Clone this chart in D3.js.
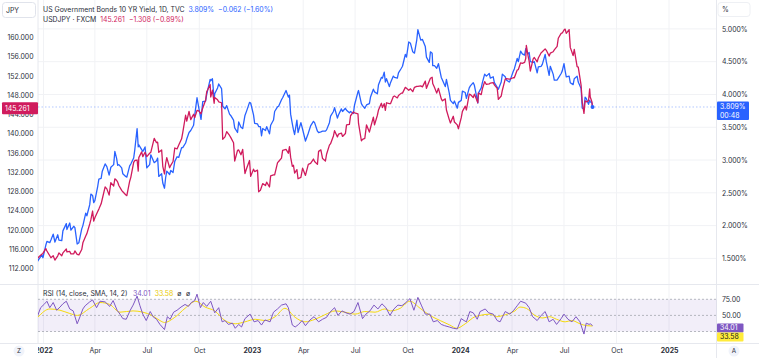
<!DOCTYPE html>
<html><head><meta charset="utf-8">
<script src="https://cdn.jsdelivr.net/npm/d3@7"></script>
<style>
html,body{margin:0;padding:0;background:#fff;}
svg{display:block;font-family:"Inter","Noto Sans",sans-serif;}
</style></head><body>
<svg id="chart" width="759" height="358"></svg>
<script>
// ---------- DATA ----------
const dates = [
"2021-12-17","2021-12-22","2021-12-24","2021-12-29","2021-12-31",
"2022-01-05","2022-01-07","2022-01-12","2022-01-14","2022-01-18","2022-01-21","2022-01-26","2022-01-28",
"2022-02-02","2022-02-04","2022-02-10","2022-02-11","2022-02-16","2022-02-18","2022-02-23","2022-02-25",
"2022-03-01","2022-03-04","2022-03-09","2022-03-11","2022-03-16","2022-03-18","2022-03-23","2022-03-25","2022-03-28","2022-03-30",
"2022-04-01","2022-04-06","2022-04-08","2022-04-12","2022-04-14","2022-04-19","2022-04-22","2022-04-26","2022-04-29",
"2022-05-04","2022-05-06","2022-05-09","2022-05-11","2022-05-13","2022-05-18","2022-05-20","2022-05-25","2022-05-27",
"2022-06-01","2022-06-03","2022-06-08","2022-06-10","2022-06-14","2022-06-16","2022-06-17","2022-06-22","2022-06-24","2022-06-28",
"2022-07-01","2022-07-06","2022-07-08","2022-07-14","2022-07-18","2022-07-20","2022-07-22","2022-07-27","2022-07-29",
"2022-08-01","2022-08-03","2022-08-05","2022-08-10","2022-08-12","2022-08-16","2022-08-19","2022-08-23","2022-08-26","2022-08-31",
"2022-09-02","2022-09-07","2022-09-09","2022-09-13","2022-09-16","2022-09-21","2022-09-23","2022-09-27","2022-09-30",
"2022-10-04","2022-10-07","2022-10-12","2022-10-14","2022-10-20","2022-10-21","2022-10-24","2022-10-27","2022-10-28",
"2022-11-02","2022-11-04","2022-11-09","2022-11-11","2022-11-15","2022-11-18","2022-11-23","2022-11-25","2022-11-30",
"2022-12-02","2022-12-07","2022-12-09","2022-12-13","2022-12-16","2022-12-20","2022-12-23","2022-12-28","2022-12-30",
"2023-01-04","2023-01-06","2023-01-11","2023-01-13","2023-01-16","2023-01-18","2023-01-20","2023-01-25","2023-01-27",
"2023-02-01","2023-02-03","2023-02-08","2023-02-10","2023-02-15","2023-02-17","2023-02-22","2023-02-24",
"2023-03-02","2023-03-06","2023-03-08","2023-03-10","2023-03-13","2023-03-15","2023-03-17","2023-03-21","2023-03-23","2023-03-28","2023-03-31",
"2023-04-05","2023-04-10","2023-04-14","2023-04-19","2023-04-21","2023-04-26","2023-04-28",
"2023-05-02","2023-05-05","2023-05-10","2023-05-12","2023-05-17","2023-05-19","2023-05-24","2023-05-26","2023-05-31",
"2023-06-02","2023-06-07","2023-06-09","2023-06-14","2023-06-16","2023-06-21","2023-06-23","2023-06-28","2023-06-30",
"2023-07-06","2023-07-07","2023-07-12","2023-07-14","2023-07-18","2023-07-21","2023-07-26","2023-07-28",
"2023-08-02","2023-08-04","2023-08-09","2023-08-11","2023-08-16","2023-08-18","2023-08-21","2023-08-23","2023-08-25","2023-08-30",
"2023-09-01","2023-09-06","2023-09-08","2023-09-13","2023-09-15","2023-09-20","2023-09-22","2023-09-27","2023-09-29",
"2023-10-03","2023-10-06","2023-10-10","2023-10-13","2023-10-17","2023-10-19","2023-10-24","2023-10-27",
"2023-11-01","2023-11-03","2023-11-08","2023-11-10","2023-11-13","2023-11-14","2023-11-17","2023-11-21","2023-11-24","2023-11-29",
"2023-12-01","2023-12-06","2023-12-08","2023-12-13","2023-12-15","2023-12-20","2023-12-22","2023-12-27","2023-12-29",
"2024-01-03","2024-01-05","2024-01-10","2024-01-12","2024-01-17","2024-01-19","2024-01-24","2024-01-26",
"2024-02-01","2024-02-02","2024-02-07","2024-02-09","2024-02-13","2024-02-16","2024-02-21","2024-02-23","2024-02-28",
"2024-03-01","2024-03-06","2024-03-08","2024-03-13","2024-03-15","2024-03-20","2024-03-22","2024-03-27","2024-03-28",
"2024-04-03","2024-04-05","2024-04-10","2024-04-12","2024-04-16","2024-04-19","2024-04-23","2024-04-25","2024-04-26","2024-04-29",
"2024-05-01","2024-05-03","2024-05-08","2024-05-10","2024-05-15","2024-05-17","2024-05-22","2024-05-24","2024-05-29","2024-05-31",
"2024-06-05","2024-06-07","2024-06-12","2024-06-14","2024-06-19","2024-06-21","2024-06-26","2024-06-28",
"2024-07-01","2024-07-03","2024-07-05","2024-07-10","2024-07-12","2024-07-17","2024-07-19","2024-07-24","2024-07-26","2024-07-31",
"2024-08-02","2024-08-05","2024-08-07","2024-08-09","2024-08-13","2024-08-15","2024-08-16","2024-08-19","2024-08-20"];

const yieldValues = [
1.40,1.46,1.49,1.55,1.51,
1.70,1.76,1.74,1.78,1.87,1.75,1.86,1.78,
1.77,1.92,2.03,1.94,2.04,1.93,1.99,1.97,
1.72,1.74,1.95,2.00,2.19,2.15,2.32,2.48,2.46,2.35,
2.38,2.60,2.71,2.72,2.83,2.94,2.90,2.77,2.89,
2.93,3.13,3.03,2.92,2.93,2.88,2.79,2.75,2.74,
2.91,2.94,3.03,3.16,3.48,3.20,3.23,3.16,3.13,3.20,
2.88,2.93,3.08,2.96,2.99,3.03,2.75,2.79,2.65,
2.57,2.73,2.83,2.78,2.84,2.81,2.98,3.05,3.04,3.19,
3.19,3.26,3.32,3.42,3.45,3.53,3.69,3.95,3.80,
3.62,3.89,3.90,4.00,4.23,4.21,4.24,3.92,4.01,
4.10,4.16,4.09,3.82,3.78,3.83,3.70,3.68,3.61,
3.49,3.42,3.58,3.50,3.48,3.68,3.75,3.88,3.87,
3.69,3.56,3.55,3.51,3.51,3.37,3.48,3.45,3.51,
3.40,3.53,3.61,3.74,3.81,3.82,3.92,3.95,
4.06,3.96,3.99,3.70,3.55,3.46,3.39,3.61,3.42,3.57,3.47,
3.29,3.41,3.52,3.59,3.57,3.44,3.42,
3.43,3.44,3.44,3.46,3.57,3.67,3.74,3.80,3.64,
3.69,3.78,3.74,3.79,3.76,3.72,3.74,3.71,3.84,
4.04,4.06,3.86,3.83,3.79,3.84,3.86,3.96,
4.08,4.04,4.01,4.15,4.26,4.25,4.34,4.19,4.24,4.12,
4.18,4.28,4.26,4.25,4.33,4.40,4.43,4.61,4.57,
4.80,4.78,4.65,4.63,4.83,4.99,4.83,4.84,
4.73,4.57,4.49,4.65,4.63,4.44,4.44,4.40,4.47,4.26,
4.22,4.12,4.23,4.02,3.91,3.86,3.90,3.79,3.88,
3.91,4.05,4.03,3.94,4.10,4.13,4.18,4.14,
3.87,4.02,4.10,4.18,4.31,4.28,4.32,4.25,4.27,
4.18,4.11,4.08,4.19,4.31,4.27,4.22,4.19,4.20,
4.35,4.39,4.55,4.50,4.66,4.62,4.60,4.70,4.67,4.62,
4.64,4.50,4.49,4.50,4.33,4.42,4.43,4.46,4.61,4.50,
4.29,4.43,4.31,4.22,4.22,4.25,4.32,4.36,
4.47,4.36,4.27,4.28,4.18,4.15,4.24,4.28,4.19,4.09,
3.79,3.78,3.96,3.94,3.85,3.91,3.89,3.871,3.809];

const usdjpyValues = [
113.7,114.1,114.4,114.9,115.1,
116.1,115.6,114.6,114.2,114.6,113.7,114.6,115.2,
114.6,115.2,116.0,115.4,115.5,115.0,115.0,115.6,
114.9,114.8,115.9,117.3,118.7,119.2,121.2,122.1,123.9,121.8,
122.5,123.8,124.3,125.4,126.4,128.9,128.5,127.2,129.8,
129.1,130.6,130.3,129.9,129.2,128.2,127.9,127.3,127.1,
130.1,130.9,134.0,134.4,134.5,132.2,135.0,136.2,135.2,136.1,
135.2,135.9,136.1,139.0,138.1,138.2,136.1,136.6,133.2,
131.6,133.8,135.0,132.9,133.4,134.2,137.0,136.8,137.6,138.9,
140.2,143.8,142.6,144.6,142.9,144.0,143.3,144.8,144.7,
144.1,145.3,146.9,148.7,150.2,147.6,149.0,146.3,147.5,
147.0,146.6,146.4,138.8,139.3,140.4,139.6,139.2,138.1,
134.3,136.5,136.6,135.6,136.7,131.7,132.8,134.4,131.1,
132.6,132.1,132.4,127.9,128.2,128.9,129.6,129.2,129.9,
128.9,131.2,131.4,131.4,133.9,134.2,134.9,136.5,
136.7,135.9,137.3,135.1,133.2,133.4,131.8,132.5,130.6,130.9,132.8,
131.3,133.6,133.8,134.7,134.2,133.6,136.3,
136.6,134.8,134.3,135.7,137.6,137.9,139.5,140.6,139.3,
139.9,140.1,139.4,140.0,141.8,141.9,143.7,144.5,144.3,
144.1,142.1,138.5,138.8,139.0,141.8,140.3,141.2,
143.4,141.8,143.8,144.9,146.3,145.4,146.2,144.8,146.4,146.2,
146.2,147.7,147.8,147.4,147.9,148.4,148.4,149.6,149.4,
149.0,149.3,148.7,149.6,149.8,149.8,149.9,149.7,
150.9,149.4,150.9,151.5,151.7,150.4,149.6,148.4,149.4,147.2,
146.8,147.2,144.9,142.9,142.2,143.6,142.4,141.8,141.0,
143.3,144.6,145.7,144.9,148.2,148.1,147.5,148.2,
146.4,148.4,148.1,149.3,150.8,150.2,150.3,150.5,150.6,
150.1,149.4,147.1,147.8,149.0,151.3,151.4,151.3,151.3,
151.6,151.6,153.2,153.3,154.7,154.6,154.8,155.6,158.3,156.2,
155.0,153.0,155.5,155.8,154.9,155.7,156.8,157.0,157.6,157.3,
156.1,156.7,157.0,157.4,158.1,159.8,160.8,160.9,
161.5,161.7,160.8,161.6,157.9,156.2,157.5,153.9,153.8,150.0,
146.5,144.2,146.8,146.6,146.8,149.3,147.6,146.569,145.261];

const rsiDates = ["2021-12-22","2021-12-27","2022-01-03","2022-01-07","2022-01-12","2022-01-18","2022-01-24","2022-01-30","2022-02-04","2022-02-10","2022-02-16","2022-02-22","2022-03-01","2022-03-06","2022-03-11","2022-03-15","2022-03-23","2022-03-28","2022-04-04","2022-04-10","2022-04-19","2022-04-27","2022-05-03","2022-05-10","2022-05-15","2022-05-20","2022-05-26","2022-06-02","2022-06-07","2022-06-14","2022-06-19","2022-06-24","2022-06-30","2022-07-07","2022-07-12","2022-07-18","2022-07-24","2022-08-01","2022-08-06","2022-08-11","2022-08-17","2022-08-23","2022-08-30","2022-09-06","2022-09-12","2022-09-17","2022-09-23","2022-09-27","2022-10-03","2022-10-08","2022-10-14","2022-10-21","2022-10-28","2022-11-04","2022-11-10","2022-11-15","2022-11-21","2022-11-28","2022-12-03","2022-12-09","2022-12-14","2022-12-20","2022-12-29","2023-01-05","2023-01-12","2023-01-18","2023-01-24","2023-02-02","2023-02-08","2023-02-15","2023-02-22","2023-03-02","2023-03-06","2023-03-13","2023-03-18","2023-03-24","2023-03-30","2023-04-05","2023-04-13","2023-04-20","2023-04-28","2023-05-05","2023-05-12","2023-05-18","2023-05-26","2023-06-01","2023-06-08","2023-06-15","2023-06-22","2023-06-29","2023-07-06","2023-07-14","2023-07-20","2023-07-27","2023-08-03","2023-08-10","2023-08-17","2023-08-24","2023-08-31","2023-09-07","2023-09-14","2023-09-21","2023-09-28","2023-10-05","2023-10-12","2023-10-19","2023-10-25","2023-11-01","2023-11-09","2023-11-15","2023-11-22","2023-11-29","2023-12-05","2023-12-13","2023-12-20","2023-12-27","2024-01-03","2024-01-08","2024-01-12","2024-01-18","2024-01-24","2024-01-31","2024-02-05","2024-02-14","2024-02-20","2024-02-28","2024-03-06","2024-03-11","2024-03-20","2024-03-28","2024-04-04","2024-04-10","2024-04-16","2024-04-25","2024-05-01","2024-05-07","2024-05-15","2024-05-22","2024-05-29","2024-06-05","2024-06-12","2024-06-18","2024-06-26","2024-07-01","2024-07-08","2024-07-15","2024-07-22","2024-07-29","2024-08-05","2024-08-09","2024-08-14","2024-08-16","2024-08-19","2024-08-20"];
const rsiValues = [50,62,68,72,62,70,58,63,68,72,60,57,37,48,60,65,71,74,62,72,71,64,73,58,52,45,44,58,66,80,65,52,42,56,48,44,36,28,48,44,55,58,63,67,64,70,73,83,62,70,64,72,54,62,40,42,36,38,30,36,32,45,52,40,42,35,43,40,55,60,66,68,62,35,32,36,42,34,43,48,40,44,47,55,62,50,57,54,52,56,70,45,52,57,66,60,68,62,50,60,66,65,70,76,58,78,66,52,52,40,42,36,34,32,30,29,45,42,40,56,54,44,56,60,54,52,42,40,56,52,58,65,72,69,62,48,42,50,56,40,44,36,45,52,44,40,48,40,21,38,36,37,35,34.01];

const smaDates = ["2021-12-22","2022-01-12","2022-01-30","2022-02-16","2022-03-01","2022-03-23","2022-04-10","2022-04-27","2022-05-15","2022-06-07","2022-06-24","2022-07-10","2022-07-24","2022-08-01","2022-08-19","2022-09-06","2022-09-25","2022-10-11","2022-10-28","2022-11-15","2022-12-03","2022-12-20","2023-01-07","2023-01-24","2023-02-11","2023-02-28","2023-03-18","2023-04-04","2023-04-22","2023-05-09","2023-05-27","2023-06-13","2023-07-01","2023-07-18","2023-08-05","2023-08-22","2023-09-01","2023-09-18","2023-10-05","2023-10-23","2023-11-09","2023-11-27","2023-12-14","2023-12-26","2024-01-10","2024-01-27","2024-02-05","2024-02-22","2024-03-05","2024-03-20","2024-04-06","2024-04-15","2024-04-26","2024-05-11","2024-05-25","2024-06-06","2024-06-18","2024-07-03","2024-07-15","2024-07-29","2024-08-10","2024-08-20"];
const smaValues = [47,60,58,53,50,61,70,67,55,57,55,50,42,39,47,61,72,63,57,42,37,40,44,42,48,61,47,40,44,51,57,55,52,56,55,60,57,61,72,61,50,42,35,30,37,48,50,52,48,51,57,63,61,50,46,48,44,40,42,37,34,33.58];

const leftTicks = [112,116,120,124,128,132,136,140,144,148,152,156,160];
const rightTicks = [1.5,2,2.5,3,3.5,4,4.5,5];
const rsiTicks = [75,50];
const rsiBands = [75,50,25];
const timeTicks = ["2022-01-01","2022-04-01","2022-07-01","2022-10-01","2023-01-01","2023-04-01","2023-07-01","2023-10-01","2024-01-01","2024-04-01","2024-07-01","2024-10-01","2025-01-01"];

// ---------- LAYOUT ----------
const W = 759, H = 358;
const plotL = 38, plotR = 716.5;
const mainBot = 284, rsiBot = 343;
const FS = 6.9;
const FONT = "Inter, 'Noto Sans', sans-serif";
const C = {blue:"#2962ff", red:"#d01b5d", text:"#2a2e39", grid:"#f1f2f5", border:"#e6e8ee",
           rsi:"#7e57c2", sma:"#f5d90a", smaBox:"#ffeb3b"};

const parse = d3.utcParse("%Y-%m-%d");
const svg = d3.select("#chart");

const x = d3.scaleUtc().domain([parse("2022-01-01"), parse("2025-01-01")]).range([43.5, 669]);
const yY = d3.scaleLinear().domain([1.5, 5]).range([258.4, 28.9]);
const yJ = d3.scaleLinear().domain([112, 160]).range([268.3, 37.3]);
const yR = d3.scaleLinear().domain([25, 75]).range([331.5, 299.3]);

const defs = svg.append("defs");
defs.append("clipPath").attr("id","clipMain").append("rect").attr("x",plotL).attr("y",0).attr("width",plotR-plotL).attr("height",mainBot);
defs.append("clipPath").attr("id","clipRsi").append("rect").attr("x",plotL).attr("y",mainBot).attr("width",plotR-plotL).attr("height",rsiBot-mainBot);
defs.append("clipPath").attr("id","clipTime").append("rect").attr("x",plotL).attr("y",rsiBot).attr("width",plotR-plotL).attr("height",H-rsiBot);

// grid
const tt = timeTicks.map(parse);
svg.append("g").selectAll("line").data(tt).join("line")
  .attr("x1",d=>x(d)).attr("x2",d=>x(d)).attr("y1",0).attr("y2",rsiBot)
  .attr("stroke",C.grid).attr("stroke-width",1);
svg.append("g").selectAll("line").data(rightTicks).join("line")
  .attr("x1",plotL).attr("x2",plotR).attr("y1",d=>yY(d)).attr("y2",d=>yY(d))
  .attr("stroke",C.grid).attr("stroke-width",1);

// borders
svg.append("line").attr("x1",plotL).attr("x2",plotL).attr("y1",0).attr("y2",rsiBot).attr("stroke",C.border);
svg.append("line").attr("x1",plotR).attr("x2",plotR).attr("y1",0).attr("y2",H).attr("stroke",C.border);
svg.append("line").attr("x1",0).attr("x2",W).attr("y1",mainBot+0.5).attr("y2",mainBot+0.5).attr("stroke",C.border);
svg.append("line").attr("x1",0).attr("x2",W).attr("y1",rsiBot+0.5).attr("y2",rsiBot+0.5).attr("stroke",C.border);

// RSI band
svg.append("rect").attr("x",plotL).attr("width",plotR-plotL).attr("y",yR(75)).attr("height",yR(25)-yR(75))
  .attr("fill","rgba(126,87,194,0.1)");
svg.append("g").selectAll("line").data(rsiBands).join("line")
  .attr("x1",plotL).attr("x2",plotR).attr("y1",d=>yR(d)).attr("y2",d=>yR(d))
  .attr("stroke","#a5a8b0").attr("stroke-dasharray","2,2").attr("stroke-width",0.8);

// series
const main = dates.map((d,i)=>({date:parse(d), y:yieldValues[i], j:usdjpyValues[i]}));
const last = main[main.length-1];

svg.append("line").attr("x1",plotL).attr("x2",plotR).attr("y1",yY(last.y)).attr("y2",yY(last.y))
  .attr("stroke","rgba(41,98,255,0.45)").attr("stroke-dasharray","1.5,2").attr("stroke-width",0.8);

const gMain = svg.append("g").attr("clip-path","url(#clipMain)");
gMain.append("path").datum(main).attr("fill","none").attr("stroke",C.blue).attr("stroke-width",1.3)
  .attr("stroke-linejoin","round").attr("d",d3.line().defined(d=>d.y!=null).x(d=>x(d.date)).y(d=>yY(d.y)));
gMain.append("path").datum(main).attr("fill","none").attr("stroke",C.red).attr("stroke-width",1.3)
  .attr("stroke-linejoin","round").attr("d",d3.line().defined(d=>d.j!=null).x(d=>x(d.date)).y(d=>yJ(d.j)));
gMain.append("circle").attr("cx",x(last.date)).attr("cy",yY(last.y)).attr("r",2).attr("fill",C.blue);

// RSI lines
const rsi = rsiDates.map((d,i)=>({date:parse(d), v:rsiValues[i]}));
const sma = smaDates.map((d,i)=>({date:parse(d), v:smaValues[i]}));
const gR = svg.append("g").attr("clip-path","url(#clipRsi)");
gR.append("path").datum(sma).attr("fill","none").attr("stroke",C.sma).attr("stroke-width",1)
  .attr("d",d3.line().curve(d3.curveMonotoneX).x(d=>x(d.date)).y(d=>yR(d.v)));
gR.append("path").datum(rsi).attr("fill","none").attr("stroke",C.rsi).attr("stroke-width",1)
  .attr("stroke-linejoin","round").attr("d",d3.line().x(d=>x(d.date)).y(d=>yR(d.v)));

// axes
function styleAxis(g){
  g.select(".domain").remove();
  g.selectAll("text").attr("font-size",FS).attr("fill",C.text).attr("font-family",FONT);
}
svg.append("g").attr("transform",`translate(${plotL},0)`)
  .call(d3.axisLeft(yJ).tickValues(leftTicks).tickFormat(d3.format(".3f")).tickSize(0).tickPadding(4.5))
  .call(styleAxis);
svg.append("g").attr("transform",`translate(${plotR},0)`)
  .call(d3.axisRight(yY).tickValues(rightTicks).tickFormat(d=>d3.format(".3f")(d)+"%").tickSize(0).tickPadding(5.5))
  .call(styleAxis);
svg.append("g").attr("transform",`translate(${plotR},0)`)
  .call(d3.axisRight(yR).tickValues(rsiTicks).tickFormat(d3.format(".2f")).tickSize(0).tickPadding(5.5))
  .call(styleAxis);
const fmtT = d=> d.getUTCMonth()===0 ? d3.utcFormat("%Y")(d) : d3.utcFormat("%b")(d);
const gx = svg.append("g").attr("clip-path","url(#clipTime)").append("g").attr("transform",`translate(0,${rsiBot})`)
  .call(d3.axisBottom(x).tickValues(tt).tickFormat(fmtT).tickSize(0).tickPadding(5))
  .call(styleAxis);
gx.selectAll("text").attr("font-weight",d=>d.getUTCMonth()===0?700:400);

// price tags
function tag(xp, top, w, h, fill, lines, color){
  const g = svg.append("g");
  g.append("rect").attr("x",xp).attr("y",top).attr("width",w).attr("height",h).attr("fill",fill).attr("rx",1);
  lines.forEach((t,i)=>g.append("text").attr("x",xp+3).attr("y",top+h/lines.length*(i+0.5)).attr("dy","0.35em")
    .attr("font-size",FS).attr("font-family",FONT).attr("fill",color).text(t));
}
tag(2, yJ(145.261)-6, 36, 12, C.red, ["145.261"], "#fff");
tag(717, yY(last.y)-5.5, 32, 18.5, C.blue, ["3.809%","00:48"], "#fff");
tag(717, 323.5, 26.5, 9, C.rsi, ["34.01"], "#fff");
tag(717, 332.5, 26.5, 9, C.smaBox, ["33.58"], "#131722");

// legend (each piece placed at its reference position, pushed right if the previous text is longer)
const lg = svg.append("g").attr("font-size",FS).attr("font-family",FONT);
function row(yp, parts){
  let end = 0;
  parts.forEach(([xp, txt, fill])=>{
    const t = lg.append("text").attr("x",Math.max(xp, end+4)).attr("y",yp).attr("fill",fill).text(txt);
    const bb = t.node().getBBox(); end = bb.x + bb.width;
  });
}
row(12, [[43,"US Government Bonds 10 YR Yield, 1D, TVC",C.text],[188,"3.809%",C.blue],[213,"\u22120.062 (\u22121.60%)",C.blue]]);
row(22, [[43,"USDJPY \u00b7 FXCM",C.text],[98.5,"145.261",C.red],[127,"\u22121.308 (\u22120.89%)",C.red]]);
row(296,[[43,"RSI (14, close, SMA, 14, 2)",C.text],[133,"34.01",C.rsi],[153,"33.58","#e8c900"],[176,"\u00f8",C.text],[186,"\u00f8",C.text]]);

// scale boxes
const b1 = svg.append("g");
b1.append("rect").attr("x",2.5).attr("y",2.5).attr("width",33).attr("height",15).attr("rx",3).attr("fill","#fff").attr("stroke","#e0e3eb");
b1.append("text").attr("x",6).attr("y",12.5).attr("font-size",FS).attr("font-family",FONT).attr("fill",C.text).text("JPY");
const b2 = svg.append("g");
b2.append("rect").attr("x",718).attr("y",2.5).attr("width",32).attr("height",14).attr("rx",3).attr("fill","#fff").attr("stroke","#eef0f4");
b2.append("text").attr("x",722).attr("y",12).attr("font-size",FS).attr("font-family",FONT).attr("fill",C.text).text("%");

// buttons
[[19,"Z"],[734,"A"]].forEach(([cx,t])=>{
  svg.append("circle").attr("cx",cx).attr("cy",351).attr("r",5.5).attr("fill","#f0f3fa");
  svg.append("text").attr("x",cx).attr("y",353.3).attr("text-anchor","middle").attr("font-size",6.3).attr("font-family",FONT).attr("fill",C.text).text(t);
});
</script>
</body></html>
